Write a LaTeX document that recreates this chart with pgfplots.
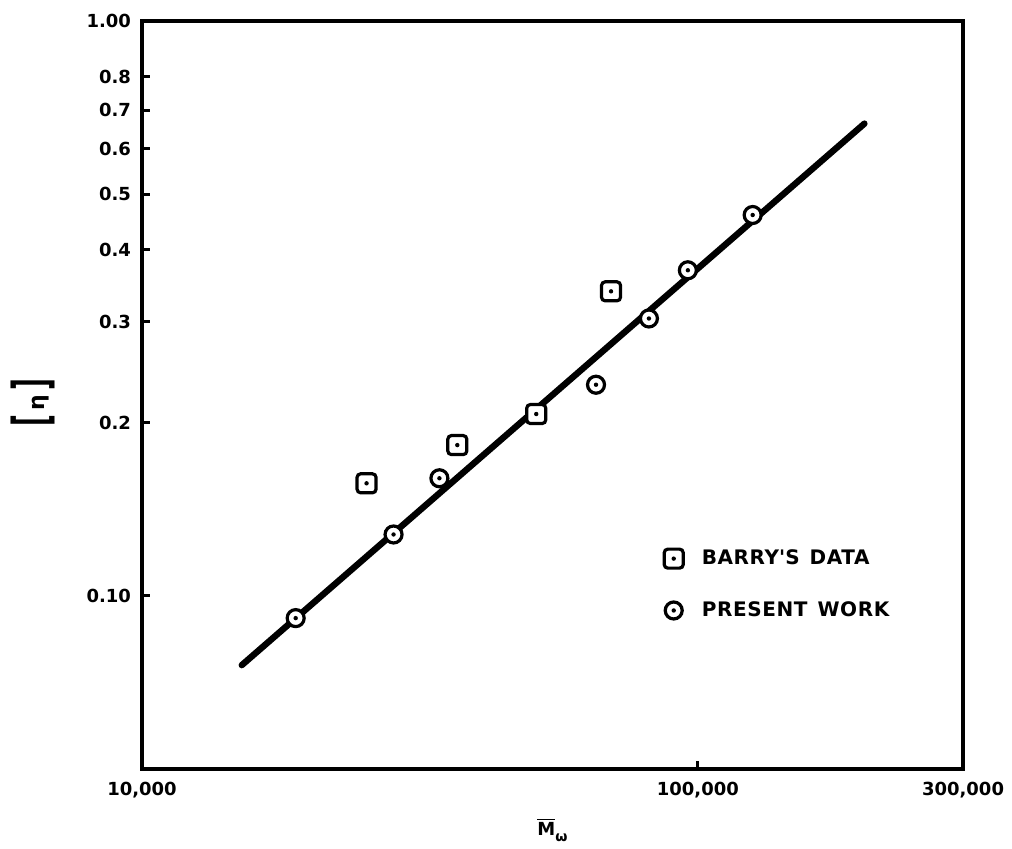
\documentclass[border=0pt]{standalone}
\usepackage{pgfplots}
\pgfplotsset{compat=1.18}
\usepackage{fontspec}
\usepackage{graphicx}
\setmainfont{DejaVu Sans}

\pgfdeclareplotmark{sqdot}{%
  \pgfsetlinewidth{1.6pt}%
  \pgfsetcornersarced{\pgfpoint{1.8pt}{1.8pt}}%
  \pgfpathrectangle{\pgfpoint{-4.75pt}{-4.75pt}}{\pgfpoint{9.5pt}{9.5pt}}%
  \pgfsetfillcolor{white}%
  \pgfusepath{fill,stroke}%
  \pgfsetcornersarced{\pgfpointorigin}%
  \pgfpathcircle{\pgfpointorigin}{1.1pt}%
  \pgfsetfillcolor{black}%
  \pgfusepath{fill}%
}
\pgfdeclareplotmark{cdot}{%
  \pgfsetlinewidth{1.6pt}%
  \pgfpathcircle{\pgfpointorigin}{4.25pt}%
  \pgfsetfillcolor{white}%
  \pgfusepath{fill,stroke}%
  \pgfpathcircle{\pgfpointorigin}{1.1pt}%
  \pgfsetfillcolor{black}%
  \pgfusepath{fill}%
}

\begin{document}
\begin{tikzpicture}
\begin{axis}[
  xmode=log, ymode=log,
  scale only axis, width=410.5pt, height=374pt,
  xmin=10000, xmax=300000, ymin=0.05, ymax=1,
  xtick={10000,100000,300000},
  xticklabels={{10,000},{100,000},{300,000}},
  ytick={0.1,0.2,0.3,0.4,0.5,0.6,0.7,0.8,1},
  yticklabels={0.10,0.2,0.3,0.4,0.5,0.6,0.7,0.8,1.00},
  minor xtick={}, minor ytick={},
  tick align=inside, xtick pos=bottom, ytick pos=left,
  major tick length=4pt,
  every tick/.style={black, line width=1.5pt},
  axis line style={line width=1.7pt},
  tick label style={font=\bfseries\fontsize{9}{10}\selectfont},
  yticklabel style={xshift=-2pt},
  xticklabel style={yshift=-3pt},
  xlabel={\bfseries\fontsize{9}{10}\selectfont$\overline{\mbox{M}}$\raisebox{-3pt}{\fontsize{7}{8}\selectfont ω}},
  xlabel style={at={(axis description cs:0.5,-0.082)}, anchor=center},
  ylabel={\bfseries\fontsize{13}{14}\selectfont\raisebox{-2pt}{\scalebox{1}[1.9]{[}}\,{\fontsize{11}{12}\selectfont η}\,\raisebox{-2pt}{\scalebox{1}[1.9]{]}}},
  ylabel style={at={(axis description cs:-0.133,0.49)}, anchor=center, rotate=0},
  legend style={draw=none, fill=none, at={(axis description cs:0.647,0.283)}, anchor=north west,
    xshift=-8.5pt, yshift=8pt, row sep=13pt,
    font=\bfseries\fontsize{10}{12}\selectfont\addfontfeature{LetterSpace=3}},
  legend cell align=left,
  clip=false,
]
\addplot[line width=3.2pt, line cap=round, forget plot] coordinates {(15120,0.0758) (199400,0.663)};
\addplot[only marks, mark=sqdot] coordinates {
  (25350,0.157) (36920,0.183) (51200,0.2072) (69800,0.3387)
};
\addplot[only marks, mark=cdot] coordinates {
  (18900,0.0915) (28350,0.1279) (34280,0.1602) (65590,0.2330)
  (81660,0.3038) (95950,0.3685) (125500,0.4598)
};
\legend{\hspace{6.5pt}BARRY\textquotesingle S\enspace DATA, \hspace{6.5pt}PRESENT\enspace WORK}
\end{axis}
\pgfresetboundingbox
\useasboundingbox ([shift={(-71pt,-40pt)}]current axis.south west) rectangle ([shift={(24.5pt,10.5pt)}]current axis.north east);
\end{tikzpicture}
\end{document}
